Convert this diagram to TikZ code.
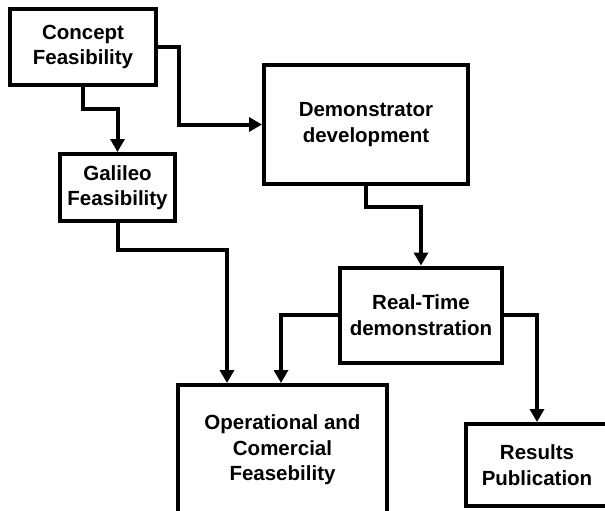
\documentclass[tikz,border=0pt]{standalone}
\usepackage{fontspec}
\setmainfont{Liberation Sans}
\usetikzlibrary{arrows.meta}
\tikzset{
  box/.style={draw=black, line width=4pt, fill=white, align=center, inner sep=0pt,
    font=\bfseries\fontsize{20.5}{25.5}\selectfont},
  conn/.style={draw=black, line width=4pt, -{Triangle[length=13pt,width=14pt]}}
}
\begin{document}
\begin{tikzpicture}[x=1pt,y=-1pt]
\clip (0,0) rectangle (605,511);
\fill[white] (0,0) rectangle (605,511);
\node[box, minimum width=146pt, minimum height=76pt] (concept) at (83,47) {Concept\\Feasibility};
\node[box, minimum width=115pt, minimum height=67pt] (galileo) at (117.5,187.5) {Galileo\\Feasibility};
\node[box, minimum width=204pt, minimum height=119pt] (demo) at (366,124.5) {Demonstrator\\development};
\node[box, minimum width=162pt, minimum height=95pt] (rt) at (421,315) {Real-Time\\demonstration};
\node[box, minimum width=209pt, minimum height=130pt] (op) at (282.5,450) {Operational and\\Comercial\\Feasebility};
\node[box, minimum width=142pt, minimum height=82pt] (res) at (537,465) {Results\\Publication};
\draw[conn] (concept.south) -- ++(0,22) -| (galileo.north);
\draw[conn] (concept.east) -- ++(21,0) |- (demo.west);
\draw[conn] (demo.south) -- ++(0,21) -| (rt.north);
\draw[conn] (galileo.south) -- ++(0,27) -| ([xshift=51pt]op.north west);
\draw[conn] (rt.west) -| ([xshift=105pt]op.north west);
\draw[conn] (rt.east) -| (res.north);
\end{tikzpicture}
\end{document}
